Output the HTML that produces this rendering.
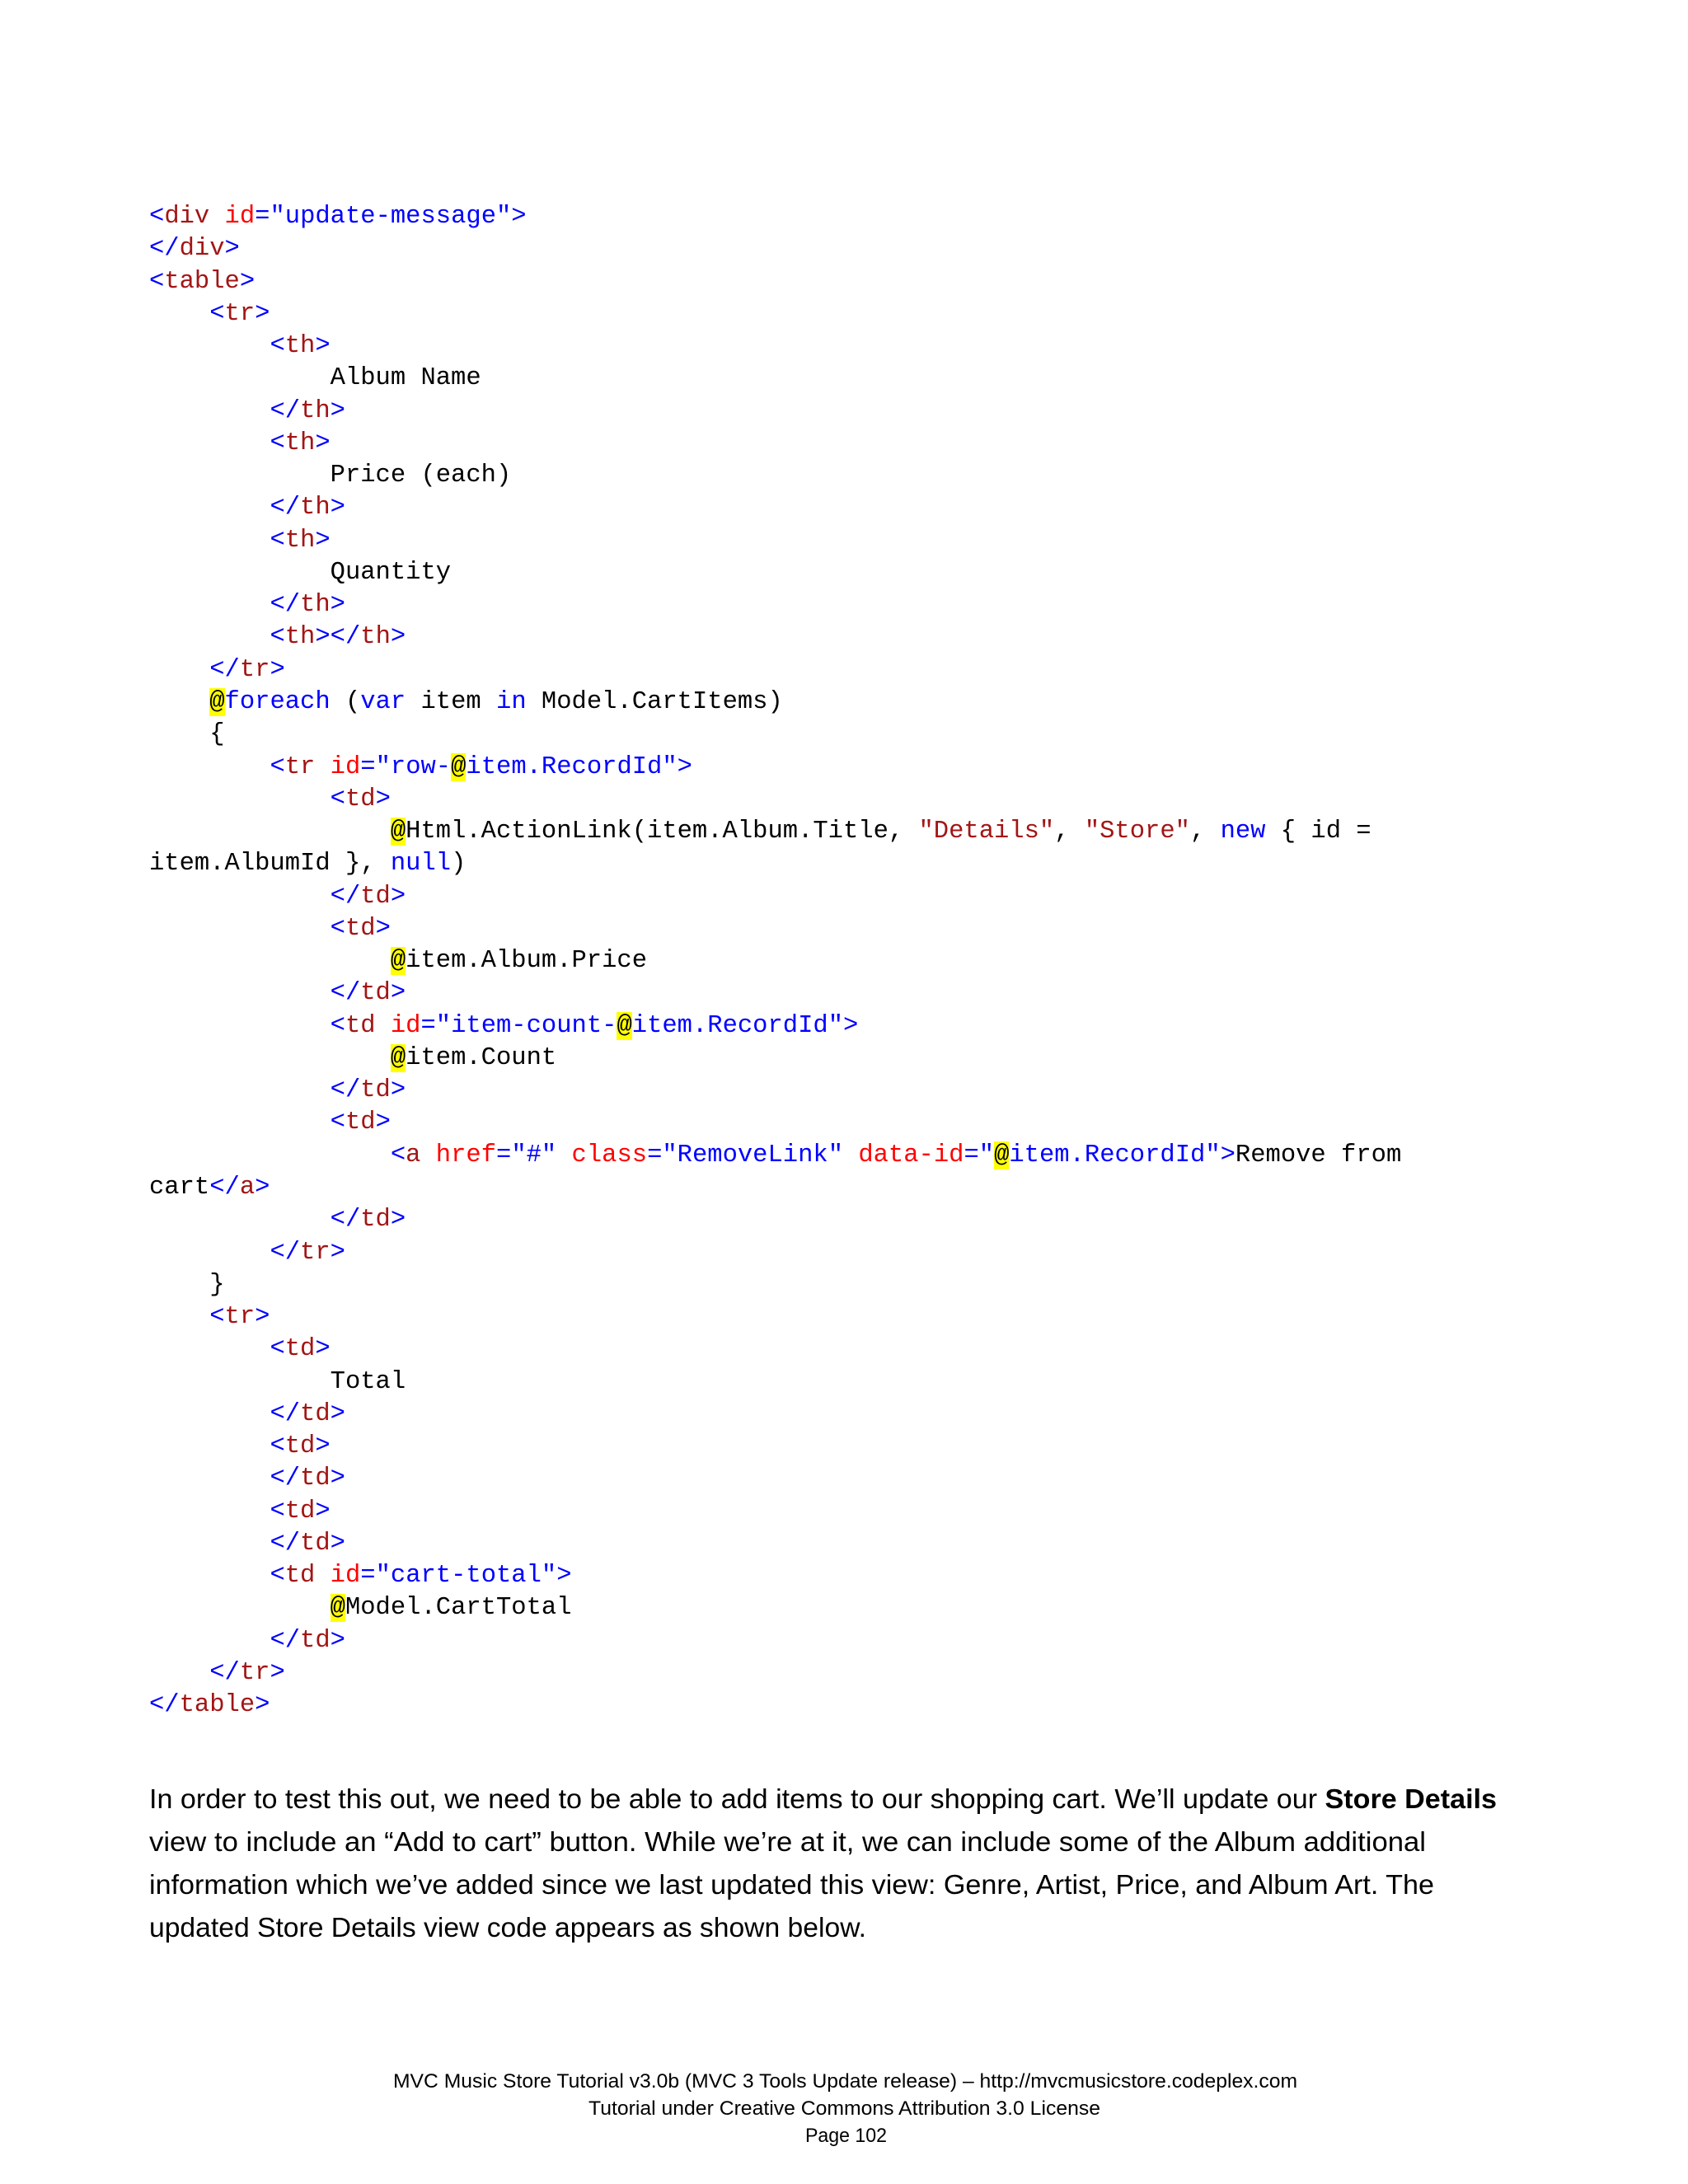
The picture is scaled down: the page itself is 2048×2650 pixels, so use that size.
<!DOCTYPE html>
<html><head><meta charset="utf-8"><style>
html,body{margin:0;padding:0;background:#fff;}
body{width:2048px;height:2650px;position:relative;overflow:hidden;}
pre{position:absolute;left:181px;top:244px;margin:0;font-family:"Liberation Mono",monospace;font-size:30.5px;line-height:39.26px;color:#000;}
.b{color:#0000ff}.t{color:#a31515}.a{color:#ff0000}.h{background:#ffff00}
svg{position:absolute;left:0;top:0}
</style></head><body>
<pre><span class="b">&lt;</span><span class="t">div</span> <span class="a">id</span><span class="b">="update-message"&gt;</span>
<span class="b">&lt;/</span><span class="t">div</span><span class="b">&gt;</span>
<span class="b">&lt;</span><span class="t">table</span><span class="b">&gt;</span>
    <span class="b">&lt;</span><span class="t">tr</span><span class="b">&gt;</span>
        <span class="b">&lt;</span><span class="t">th</span><span class="b">&gt;</span>
            Album Name
        <span class="b">&lt;/</span><span class="t">th</span><span class="b">&gt;</span>
        <span class="b">&lt;</span><span class="t">th</span><span class="b">&gt;</span>
            Price (each)
        <span class="b">&lt;/</span><span class="t">th</span><span class="b">&gt;</span>
        <span class="b">&lt;</span><span class="t">th</span><span class="b">&gt;</span>
            Quantity
        <span class="b">&lt;/</span><span class="t">th</span><span class="b">&gt;</span>
        <span class="b">&lt;</span><span class="t">th</span><span class="b">&gt;&lt;/</span><span class="t">th</span><span class="b">&gt;</span>
    <span class="b">&lt;/</span><span class="t">tr</span><span class="b">&gt;</span>
    <span class="h">@</span><span class="b">foreach</span> (<span class="b">var</span> item <span class="b">in</span> Model.CartItems)
    {
        <span class="b">&lt;</span><span class="t">tr</span> <span class="a">id</span><span class="b">="row-</span><span class="h">@</span><span class="b">item.RecordId"&gt;</span>
            <span class="b">&lt;</span><span class="t">td</span><span class="b">&gt;</span>
                <span class="h">@</span>Html.ActionLink(item.Album.Title, <span class="t">"Details"</span>, <span class="t">"Store"</span>, <span class="b">new</span> { id =
item.AlbumId }, <span class="b">null</span>)
            <span class="b">&lt;/</span><span class="t">td</span><span class="b">&gt;</span>
            <span class="b">&lt;</span><span class="t">td</span><span class="b">&gt;</span>
                <span class="h">@</span>item.Album.Price
            <span class="b">&lt;/</span><span class="t">td</span><span class="b">&gt;</span>
            <span class="b">&lt;</span><span class="t">td</span> <span class="a">id</span><span class="b">="item-count-</span><span class="h">@</span><span class="b">item.RecordId"&gt;</span>
                <span class="h">@</span>item.Count
            <span class="b">&lt;/</span><span class="t">td</span><span class="b">&gt;</span>
            <span class="b">&lt;</span><span class="t">td</span><span class="b">&gt;</span>
                <span class="b">&lt;</span><span class="t">a</span> <span class="a">href</span><span class="b">="#"</span> <span class="a">class</span><span class="b">="RemoveLink"</span> <span class="a">data-id</span><span class="b">="</span><span class="h">@</span><span class="b">item.RecordId"&gt;</span>Remove from
cart<span class="b">&lt;/</span><span class="t">a</span><span class="b">&gt;</span>
            <span class="b">&lt;/</span><span class="t">td</span><span class="b">&gt;</span>
        <span class="b">&lt;/</span><span class="t">tr</span><span class="b">&gt;</span>
    }
    <span class="b">&lt;</span><span class="t">tr</span><span class="b">&gt;</span>
        <span class="b">&lt;</span><span class="t">td</span><span class="b">&gt;</span>
            Total
        <span class="b">&lt;/</span><span class="t">td</span><span class="b">&gt;</span>
        <span class="b">&lt;</span><span class="t">td</span><span class="b">&gt;</span>
        <span class="b">&lt;/</span><span class="t">td</span><span class="b">&gt;</span>
        <span class="b">&lt;</span><span class="t">td</span><span class="b">&gt;</span>
        <span class="b">&lt;/</span><span class="t">td</span><span class="b">&gt;</span>
        <span class="b">&lt;</span><span class="t">td</span> <span class="a">id</span><span class="b">="cart-total"&gt;</span>
            <span class="h">@</span>Model.CartTotal
        <span class="b">&lt;/</span><span class="t">td</span><span class="b">&gt;</span>
    <span class="b">&lt;/</span><span class="t">tr</span><span class="b">&gt;</span>
<span class="b">&lt;/</span><span class="t">table</span><span class="b">&gt;</span></pre>
<svg width="2048" height="2650" font-family="Liberation Sans, sans-serif">
<g font-size="33" fill="#000">
<text x="181" y="2194" textLength="1635" lengthAdjust="spacingAndGlyphs">In order to test this out, we need to be able to add items to our shopping cart. We’ll update our <tspan font-weight="bold">Store Details</tspan></text>
<text x="181" y="2246" textLength="1549" lengthAdjust="spacingAndGlyphs">view to include an “Add to cart” button. While we’re at it, we can include some of the Album additional</text>
<text x="181" y="2298" textLength="1559" lengthAdjust="spacingAndGlyphs">information which we’ve added since we last updated this view: Genre, Artist, Price, and Album Art. The</text>
<text x="181" y="2350" textLength="870" lengthAdjust="spacingAndGlyphs">updated Store Details view code appears as shown below.</text>
</g>
<g font-size="24" fill="#000">
<text x="477" y="2533" textLength="1097" lengthAdjust="spacingAndGlyphs">MVC Music Store Tutorial v3.0b (MVC 3 Tools Update release) – http://mvcmusicstore.codeplex.com</text>
<text x="714" y="2566" textLength="621" lengthAdjust="spacingAndGlyphs">Tutorial under Creative Commons Attribution 3.0 License</text>
<text x="977" y="2599" textLength="99" lengthAdjust="spacingAndGlyphs">Page 102</text>
</g>
</svg>
</body></html>
